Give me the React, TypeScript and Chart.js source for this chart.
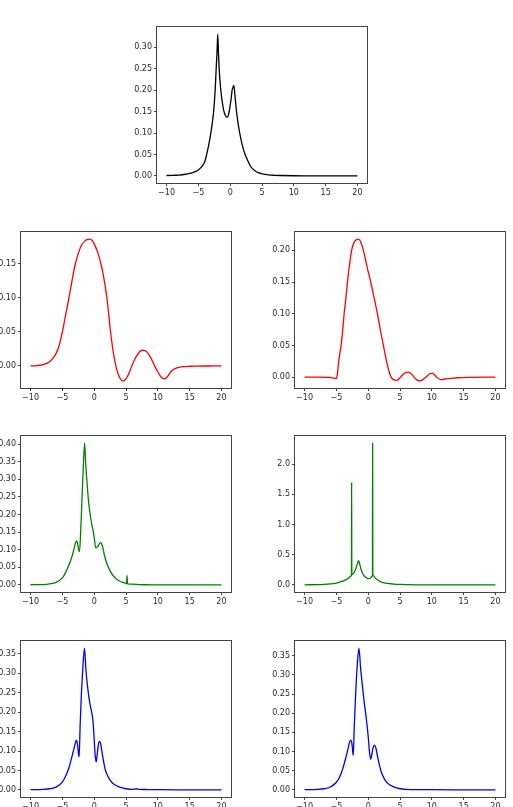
import { useEffect, useRef } from 'react';
import { Chart, registerables } from 'chart.js';

Chart.register(...registerables);

// ---- shared tick values ----
const X_TICKS = [-10, -5, 0, 5, 10, 15, 20];
const Y_TICKS_030 = [0, 0.05, 0.1, 0.15, 0.2, 0.25, 0.3];
const Y_TICKS_015 = [0, 0.05, 0.1, 0.15];
const Y_TICKS_020 = [0, 0.05, 0.1, 0.15, 0.2];
const Y_TICKS_040 = [0, 0.05, 0.1, 0.15, 0.2, 0.25, 0.3, 0.35, 0.4];
const Y_TICKS_20 = [0, 0.5, 1.0, 1.5, 2.0];
const Y_TICKS_035 = [0, 0.05, 0.1, 0.15, 0.2, 0.25, 0.3, 0.35];

// ---- top panel (black) ----
const blackX = [-10, -9, -8, -7, -6, -5.5, -5, -4.5, -4, -3.7, -3.4, -3.04, -2.8, -2.6, -2.36, -2.2, -2.08, -1.95, -1.85, -1.73, -1.6, -1.47, -1.3, -1.0, -0.75, -0.5, -0.3, -0.16, 0, 0.15, 0.3, 0.45, 0.55, 0.65, 0.8, 1.0, 1.25, 1.5, 1.9, 2.35, 2.7, 3.1, 3.5, 4, 4.5, 5, 6, 7, 8, 10, 12, 15, 20];
const blackY = [0.001, 0.0015, 0.002, 0.004, 0.007, 0.01, 0.014, 0.021, 0.033, 0.05, 0.07, 0.1, 0.125, 0.15, 0.2, 0.25, 0.285, 0.331, 0.29, 0.25, 0.222, 0.2, 0.178, 0.152, 0.141, 0.137, 0.141, 0.15, 0.165, 0.18, 0.2, 0.207, 0.211, 0.204, 0.18, 0.15, 0.122, 0.1, 0.072, 0.05, 0.038, 0.025, 0.017, 0.011, 0.007, 0.005, 0.0025, 0.0015, 0.001, 0.0005, 0.0003, 0.0002, 0.0001];

// ---- second row (red) ----
const redLeftX = [-10, -9, -8, -7, -6.5, -6, -5.5, -5, -4.5, -4, -3.5, -3, -2.5, -2, -1.5, -1, -0.7, -0.3, 0, 0.5, 1, 1.5, 2, 2.5, 3, 3.5, 4, 4.5, 5, 5.5, 6, 6.5, 7, 7.5, 8, 8.5, 9, 9.5, 10, 10.5, 11, 11.5, 12, 12.5, 13, 14, 15, 16, 18, 20];
const redLeftY = [0, 0.0005, 0.002, 0.006, 0.011, 0.018, 0.03, 0.05, 0.074, 0.098, 0.124, 0.148, 0.165, 0.177, 0.183, 0.1855, 0.186, 0.184, 0.179, 0.168, 0.152, 0.13, 0.1, 0.056, 0.02, -0.004, -0.017, -0.022, -0.019, -0.01, 0.002, 0.012, 0.019, 0.023, 0.0225, 0.018, 0.01, 0, -0.009, -0.016, -0.019, -0.016, -0.009, -0.005, -0.003, -0.0012, -0.0005, -0.0002, -0.0001, 0];

const redRightX = [-10, -8, -6, -5.4, -5, -4.85, -4.6, -4.25, -4, -3.78, -3.5, -3.26, -3, -2.6, -2.2, -1.8, -1.5, -1.2, -0.75, -0.2, 0.4, 1, 1.45, 2, 2.39, 3, 3.3, 3.6, 4, 4.5, 5.1, 5.7, 6.3, 6.8, 7.2, 7.6, 8.1, 8.6, 9.1, 9.6, 10.1, 10.5, 10.75, 11.2, 11.5, 12, 13, 14, 16, 20];
const redRightY = [0, 0, -0.0005, -0.0015, -0.002, 0.004, 0.028, 0.05, 0.075, 0.1, 0.125, 0.15, 0.172, 0.2, 0.213, 0.2172, 0.2178, 0.214, 0.2, 0.175, 0.15, 0.122, 0.1, 0.07, 0.05, 0.02, 0.008, 0, -0.004, -0.005, 0, 0.006, 0.008, 0.005, 0, -0.004, -0.006, -0.004, 0, 0.005, 0.006, 0.003, 0, -0.003, -0.004, -0.003, -0.002, -0.001, -0.0003, 0];

// ---- third row (green) ----
const greenLeftX = [-10, -8, -7, -6, -5, -4.5, -4, -3.5, -3.2, -3, -2.8, -2.6, -2.45, -2.3, -2.1, -1.9, -1.7, -1.5, -1.35, -1.16, -0.9, -0.63, -0.4, -0.2, 0, 0.26, 0.5, 0.75, 1.0, 1.3, 1.6, 2, 2.5, 3, 3.5, 4, 4.5, 5.1, 5.15, 5.25, 6, 7, 8, 10, 15, 20];
const greenLeftY = [0.0005, 0.001, 0.003, 0.007, 0.02, 0.035, 0.055, 0.08, 0.1, 0.115, 0.125, 0.118, 0.1, 0.095, 0.16, 0.25, 0.34, 0.403, 0.35, 0.3, 0.24, 0.2, 0.175, 0.157, 0.135, 0.105, 0.108, 0.115, 0.12, 0.11, 0.085, 0.06, 0.04, 0.026, 0.017, 0.011, 0.007, 0.004, 0.027, 0.003, 0.002, 0.001, 0.0005, 0.0003, 0.0001, 0];

const greenRightX = [-10, -8, -7, -6, -5, -4.5, -4, -3.5, -3, -2.75, -2.63, -2.6, -2.57, -2.45, -2.2, -1.9, -1.6, -1.5, -1.3, -1.0, -0.7, -0.3, 0, 0.3, 0.55, 0.67, 0.7, 0.73, 0.85, 1.0, 1.5, 2, 3, 4, 5, 6, 8, 10, 15, 20];
const greenRightY = [0.002, 0.005, 0.009, 0.016, 0.03, 0.045, 0.062, 0.088, 0.12, 0.145, 0.16, 1.7, 0.17, 0.175, 0.21, 0.28, 0.385, 0.4, 0.33, 0.22, 0.16, 0.12, 0.105, 0.11, 0.135, 0.15, 2.35, 0.17, 0.15, 0.13, 0.08, 0.05, 0.025, 0.014, 0.008, 0.005, 0.002, 0.001, 0.0003, 0];

// ---- bottom row (blue) ----
const blueLeftX = [-10, -8, -7, -6, -5, -4.5, -4, -3.5, -3.2, -3, -2.8, -2.6, -2.45, -2.37, -2.2, -2, -1.8, -1.53, -1.3, -1, -0.7, -0.4, -0.2, 0, 0.15, 0.32, 0.5, 0.7, 0.85, 1, 1.3, 1.7, 2, 2.5, 3, 4, 5, 6, 6.6, 7, 8, 10, 15, 20];
const blueLeftY = [0.0005, 0.0015, 0.003, 0.007, 0.02, 0.035, 0.055, 0.085, 0.105, 0.118, 0.128, 0.115, 0.09, 0.085, 0.17, 0.25, 0.31, 0.365, 0.31, 0.26, 0.225, 0.2, 0.18, 0.13, 0.09, 0.072, 0.095, 0.12, 0.125, 0.12, 0.09, 0.055, 0.04, 0.025, 0.016, 0.007, 0.003, 0.0015, 0.003, 0.0015, 0.001, 0.0005, 0.0002, 0];

const blueRightX = [-10, -8, -7, -6, -5, -4.5, -4, -3.5, -3.2, -3, -2.76, -2.55, -2.4, -2.34, -2.2, -2, -1.7, -1.45, -1.2, -0.9, -0.6, -0.3, 0, 0.2, 0.4, 0.6, 0.8, 1, 1.2, 1.5, 2, 2.5, 3, 4, 5, 6, 8, 10, 15, 20];
const blueRightY = [0.0005, 0.0015, 0.003, 0.007, 0.02, 0.033, 0.055, 0.085, 0.105, 0.12, 0.13, 0.12, 0.095, 0.09, 0.16, 0.24, 0.33, 0.37, 0.32, 0.27, 0.225, 0.187, 0.14, 0.1, 0.08, 0.095, 0.112, 0.117, 0.11, 0.085, 0.05, 0.03, 0.018, 0.008, 0.003, 0.0015, 0.0008, 0.0005, 0.0002, 0];

// ---- figure layout ----
const FIG_W = 513;
const FIG_H = 807;
const BOX_W = 210;
const BOX_H = 156;
const AXIS_W = 45;   // room for y tick labels
const AXIS_H = 22;   // room for x tick labels
const PAD_T = 10;
const PAD_R = 12;
const COL_LEFT = 21;
const COL_RIGHT = 295;
const COL_MID = 157;
const ROW_TOPS = [27, 232, 436, 641];

const SPINE = '#444444';
const TEXT = '#2a2a2a';
const FONT = { family: 'DejaVu Sans', size: 8 };

type PanelSpec = {
  xs: number[];
  ys: number[];
  color: string;
  yTicks: number[];
  decimals: number;
  left: number;
  top: number;
};

const PANELS: PanelSpec[] = [
  { xs: blackX, ys: blackY, color: '#000000', yTicks: Y_TICKS_030, decimals: 2, left: COL_MID, top: ROW_TOPS[0] },
  { xs: redLeftX, ys: redLeftY, color: '#ff0000', yTicks: Y_TICKS_015, decimals: 2, left: COL_LEFT, top: ROW_TOPS[1] },
  { xs: redRightX, ys: redRightY, color: '#ff0000', yTicks: Y_TICKS_020, decimals: 2, left: COL_RIGHT, top: ROW_TOPS[1] },
  { xs: greenLeftX, ys: greenLeftY, color: '#008000', yTicks: Y_TICKS_040, decimals: 2, left: COL_LEFT, top: ROW_TOPS[2] },
  { xs: greenRightX, ys: greenRightY, color: '#008000', yTicks: Y_TICKS_20, decimals: 1, left: COL_RIGHT, top: ROW_TOPS[2] },
  { xs: blueLeftX, ys: blueLeftY, color: '#0000ff', yTicks: Y_TICKS_035, decimals: 2, left: COL_LEFT, top: ROW_TOPS[3] },
  { xs: blueRightX, ys: blueRightY, color: '#0000ff', yTicks: Y_TICKS_035, decimals: 2, left: COL_RIGHT, top: ROW_TOPS[3] },
];

const fmtX = (v: number) => (v < 0 ? '\u2212' + Math.abs(v) : String(v));

// box around the plotting area (all four spines)
const framePlugin = {
  id: 'frame',
  afterDraw(chart: any) {
    const { ctx, chartArea: a } = chart;
    ctx.save();
    ctx.strokeStyle = SPINE;
    ctx.lineWidth = 1;
    ctx.strokeRect(Math.round(a.left) - 0.5, Math.round(a.top) - 0.5, Math.round(a.right - a.left) + 1, Math.round(a.bottom - a.top) + 1);
    ctx.restore();
  },
};

function Panel({ spec }: { spec: PanelSpec }) {
  const ref = useRef<HTMLCanvasElement | null>(null);
  const w = AXIS_W + BOX_W + PAD_R;
  const h = PAD_T + BOX_H + AXIS_H;

  useEffect(() => {
    if (!ref.current) return;
    const n = Math.min(spec.xs.length, spec.ys.length);
    const points = [];
    for (let i = 0; i < n; i++) points.push({ x: spec.xs[i], y: spec.ys[i] });

    // data limits with 5% margins on both axes
    const lo = Math.min(...spec.ys);
    const hi = Math.max(...spec.ys);
    const span = hi - lo;
    const xlo = Math.min(...spec.xs);
    const xhi = Math.max(...spec.xs);
    const xspan = xhi - xlo;

    const chart = new Chart(ref.current, {
      type: 'line',
      data: {
        datasets: [
          {
            data: points,
            borderColor: spec.color,
            borderWidth: 1.3,
            pointRadius: 0,
            fill: false,
            cubicInterpolationMode: 'monotone',
          },
        ],
      },
      options: {
        animation: false,
        responsive: false,
        devicePixelRatio: 1,
        layout: { padding: { left: 0, top: PAD_T, right: PAD_R, bottom: 0 } },
        plugins: { legend: { display: false }, tooltip: { enabled: false } },
        scales: {
          x: {
            type: 'linear',
            min: xlo - 0.05 * xspan,
            max: xhi + 0.05 * xspan,
            afterFit: (s: any) => { s.height = AXIS_H; },
            afterBuildTicks: (s: any) => { s.ticks = X_TICKS.map((v) => ({ value: v })); },
            border: { display: false },
            grid: { drawOnChartArea: false, drawTicks: true, tickLength: 3, tickWidth: 1, tickColor: SPINE },
            ticks: { font: FONT, color: TEXT, padding: 2, maxRotation: 0, autoSkip: false, callback: (v: any) => fmtX(Number(v)) },
          },
          y: {
            type: 'linear',
            min: lo - 0.05 * span,
            max: hi + 0.05 * span,
            afterFit: (s: any) => { s.width = AXIS_W; },
            afterBuildTicks: (s: any) => { s.ticks = spec.yTicks.map((v) => ({ value: v })); },
            border: { display: false },
            grid: { drawOnChartArea: false, drawTicks: true, tickLength: 3, tickWidth: 1, tickColor: SPINE },
            ticks: { font: FONT, color: TEXT, padding: 2, autoSkip: false, callback: (v: any) => Number(v).toFixed(spec.decimals) },
          },
        },
      },
      plugins: [framePlugin],
    } as any);
    return () => chart.destroy();
  }, [spec]);

  return (
    <canvas
      ref={ref}
      width={w}
      height={h}
      style={{ position: 'absolute', left: spec.left - AXIS_W, top: spec.top - PAD_T, width: w, height: h }}
    />
  );
}

export default function App() {
  return (
    <div style={{ position: 'absolute', left: 0, top: 0, width: FIG_W, height: FIG_H, overflow: 'hidden', background: '#ffffff' }}>
      {PANELS.map((p, i) => (
        <Panel key={i} spec={p} />
      ))}
    </div>
  );
}
